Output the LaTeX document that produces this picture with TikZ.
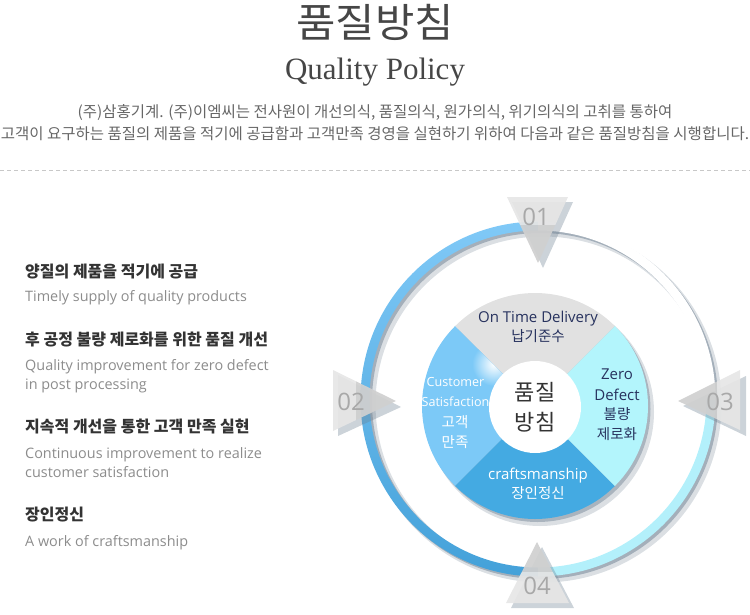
\documentclass[tikz,border=0pt]{standalone}
\usepackage{fontspec}
\setmainfont{Open Sans}
\newfontfamily\kr{Noto Sans CJK KR}
\newfontfamily\serifen{Liberation Serif}
\definecolor{titlegray}{HTML}{464646}
\definecolor{paragray}{HTML}{666666}
\definecolor{headdark}{HTML}{333333}
\definecolor{engray}{HTML}{8C8C8C}
\definecolor{dashgray}{HTML}{C8C8C8}
\definecolor{ringtop}{HTML}{80C9F7}
\definecolor{ringbot}{HTML}{44A1D9}
\definecolor{ringcyan}{HTML}{B3F0FB}
\definecolor{shadowc}{HTML}{6E8091}
\definecolor{piegray}{HTML}{E1E1E1}
\definecolor{piecyan}{HTML}{B3F5FC}
\definecolor{pieblue}{HTML}{44AAE2}
\definecolor{pielight}{HTML}{7CC9F7}
\definecolor{navy}{HTML}{27325E}
\definecolor{trilight}{HTML}{E6E6E6}
\definecolor{tridark}{HTML}{D0D0D0}
\definecolor{numgray}{HTML}{A8A8A8}
\begin{document}
\begin{tikzpicture}[x=1pt,y=1pt,
  krhead/.style={anchor=base west, inner sep=0pt, text=headdark, font=\kr\bfseries\fontsize{16}{18}\selectfont},
  entext/.style={anchor=base west, inner sep=0pt, text=engray, font=\fontsize{14.4}{16}\selectfont},
  paratext/.style={anchor=base, inner sep=0pt, text=paragray, font=\kr\fontsize{15.5}{17}\selectfont},
  pieen/.style={anchor=base, inner sep=0pt, font=\fontsize{15}{17}\selectfont},
  piekr/.style={anchor=base, inner sep=0pt, font=\kr\fontsize{14.5}{17}\selectfont},
  numtext/.style={anchor=base, inner sep=0pt, text=numgray, font=\fontsize{24}{26}\selectfont},
  trishadow/.style={fill=shadowc, opacity=0.35},
]
\useasboundingbox (0,0) rectangle (750,-614);

% ---------- header ----------
\node[anchor=base, inner sep=0pt, text=titlegray, font=\kr\fontsize{40}{42}\selectfont] (title) at (375,-37) {\scalebox{1.07}[1]{품질방침}};
\node[anchor=base, inner sep=0pt, text=titlegray, font=\serifen\fontsize{31}{33}\selectfont] (subtitle) at (375,-79) {Quality Policy};
\node[paratext] (para1) at (375,-117.5) {(주)삼홍기계. (주)이엠씨는 전사원이 개선의식, 품질의식, 원가의식, 위기의식의 고취를 통하여};
\node[paratext] (para2) at (375,-139.5) {고객이 요구하는 품질의 제품을 적기에 공급함과 고객만족 경영을 실현하기 위하여 다음과 같은 품질방침을 시행합니다.};
\coordinate (dashL) at (0,-170);
\coordinate (dashR) at (750,-170);
\draw[dashgray, line width=0.8pt, dash pattern=on 4pt off 3pt] (dashL) -- (dashR);

% ---------- left list ----------
\node[krhead] (h1) at (25,-277.5) {양질의 제품을 적기에 공급};
\node[entext] (e1) at (25,-301.7) {Timely supply of quality products};
\node[krhead] (h2) at (25,-345.5) {후 공정 불량 제로화를 위한 품질 개선};
\node[entext] (e2a) at (25,-370.7) {Quality improvement for zero defect};
\node[entext] (e2b) at (25,-389.3) {in post processing};
\node[krhead] (h3) at (25,-432.5) {지속적 개선을 통한 고객 만족 실현};
\node[entext] (e3a) at (25,-458.3) {Continuous improvement to realize};
\node[entext] (e3b) at (25,-477.7) {customer satisfaction};
\node[krhead] (h4) at (25,-520.5) {장인정신};
\node[entext] (e4) at (25,-546.7) {A work of craftsmanship};

% ---------- outer ring ----------
\coordinate (rc) at (538,-399);
\fill[shadowc, opacity=0.25, even odd rule] ([shift={(5,-5)}]rc) circle (178.5) ([shift={(5,-5)}]rc) circle (167.5);
\fill[shadowc, opacity=0.5, even odd rule] ([shift={(2.5,-2.5)}]rc) circle (177.5) ([shift={(2.5,-2.5)}]rc) circle (168.5);
\begin{scope}
  \clip (300,-150) rectangle (538,-614);
  \shade[top color=ringtop, bottom color=ringbot, even odd rule] (rc) circle (177.5) (rc) circle (168.5);
\end{scope}
\begin{scope}
  \clip (538,-150) rectangle (760,-400);
  \fill[white, even odd rule] (rc) circle (177.5) (rc) circle (168.5);
\end{scope}
\begin{scope}
  \clip (538,-400) rectangle (760,-614);
  \fill[ringcyan, even odd rule] (rc) circle (177.5) (rc) circle (168.5);
\end{scope}

% ---------- pie ----------
\coordinate (pc) at (535,-406);
\fill[shadowc, opacity=0.25] ([shift={(5,-6)}]pc) circle (114);
\fill[shadowc, opacity=0.45] ([shift={(2.5,-3)}]pc) circle (113);
\fill[piegray] (pc) -- ++(45:113) arc[start angle=45, end angle=135, radius=113] -- cycle;
\fill[pielight] (pc) -- ++(135:113) arc[start angle=135, end angle=225, radius=113] -- cycle;
\fill[pieblue] (pc) -- ++(225:113) arc[start angle=225, end angle=315, radius=113] -- cycle;
\fill[piecyan] (pc) -- ++(-45:113) arc[start angle=-45, end angle=45, radius=113] -- cycle;
\begin{scope}
  \clip (pc) -- ++(135:113) arc[start angle=135, end angle=225, radius=113] -- cycle;
  \shade[inner color=white, outer color=pielight] (494,-364) circle (22);
\end{scope}
\fill[white] (535,-407) circle (46);

\node[pieen, text=navy] (otd) at (538,-322.3) {On Time Delivery};
\node[piekr, text=navy] (otdk) at (538,-341.2) {납기준수};
\node[pieen, text=white, font=\fontsize{12.6}{15}\selectfont] (cus1) at (455.5,-386.6) {Customer};
\node[pieen, text=white, font=\fontsize{12.6}{15}\selectfont] (cus2) at (455.5,-406.6) {Satisfaction};
\node[piekr, text=white] (cus3) at (455,-427.2) {고객};
\node[piekr, text=white] (cus4) at (455,-447.2) {만족};
\node[anchor=base, inner sep=0pt, text=headdark, font=\kr\fontsize{22}{24}\selectfont] (c1) at (535,-400) {품질};
\node[anchor=base, inner sep=0pt, text=headdark, font=\kr\fontsize{22}{24}\selectfont] (c2) at (535,-430) {방침};
\node[pieen, text=navy] (zd1) at (617,-379.3) {Zero};
\node[pieen, text=navy] (zd2) at (617,-400.3) {Defect};
\node[piekr, text=navy] (zd3) at (617,-419.2) {불량};
\node[piekr, text=navy] (zd4) at (617,-439.2) {제로화};
\node[pieen, text=white] (cr1) at (538,-479.3) {craftsmanship};
\node[piekr, text=white] (cr2) at (538,-498.2) {장인정신};

% ---------- triangles ----------
% 01 (pointing down)
\fill[trishadow] (512,-202) -- (573,-202) -- (543,-268) -- cycle;
\begin{scope}
  \clip (507,-197) -- (568,-197) -- (538,-263) -- cycle;
  \fill[tridark, opacity=0.93] (500,-225) rectangle (580,-270);
  \fill[trilight, opacity=0.93] (500,-190) rectangle (580,-225);
\end{scope}
\node[numtext] (n1) at (536,-225) {01};
% 02 (pointing right)
\fill[trishadow] (338,-375) -- (338,-436) -- (401,-407) -- cycle;
\begin{scope}
  \clip (333,-370) -- (333,-431) -- (396,-401) -- cycle;
  \fill[tridark, opacity=0.93] (356,-360) rectangle (400,-440);
  \fill[trilight, opacity=0.93] (325,-360) rectangle (356,-440);
\end{scope}
\node[numtext] (n2) at (351,-410) {02};
% 03 (pointing left)
\fill[trishadow] (746,-376) -- (746,-436) -- (683,-406) -- cycle;
\begin{scope}
  \clip (740,-370) -- (740,-430) -- (678,-401) -- cycle;
  \fill[tridark, opacity=0.93] (670,-360) rectangle (717,-440);
  \fill[trilight, opacity=0.93] (717,-360) rectangle (750,-440);
\end{scope}
\node[numtext] (n3) at (720,-410) {03};
% 04 (pointing up)
\fill[trishadow] (542,-547) -- (511,-608) -- (574,-608) -- cycle;
\begin{scope}
  \clip (537,-542) -- (506,-603) -- (569,-603) -- cycle;
  \fill[tridark, opacity=0.93] (500,-535) rectangle (575,-572);
  \fill[trilight, opacity=0.93] (500,-572) rectangle (575,-610);
\end{scope}
\node[numtext] (n4) at (537,-594) {04};
\end{tikzpicture}
\end{document}
